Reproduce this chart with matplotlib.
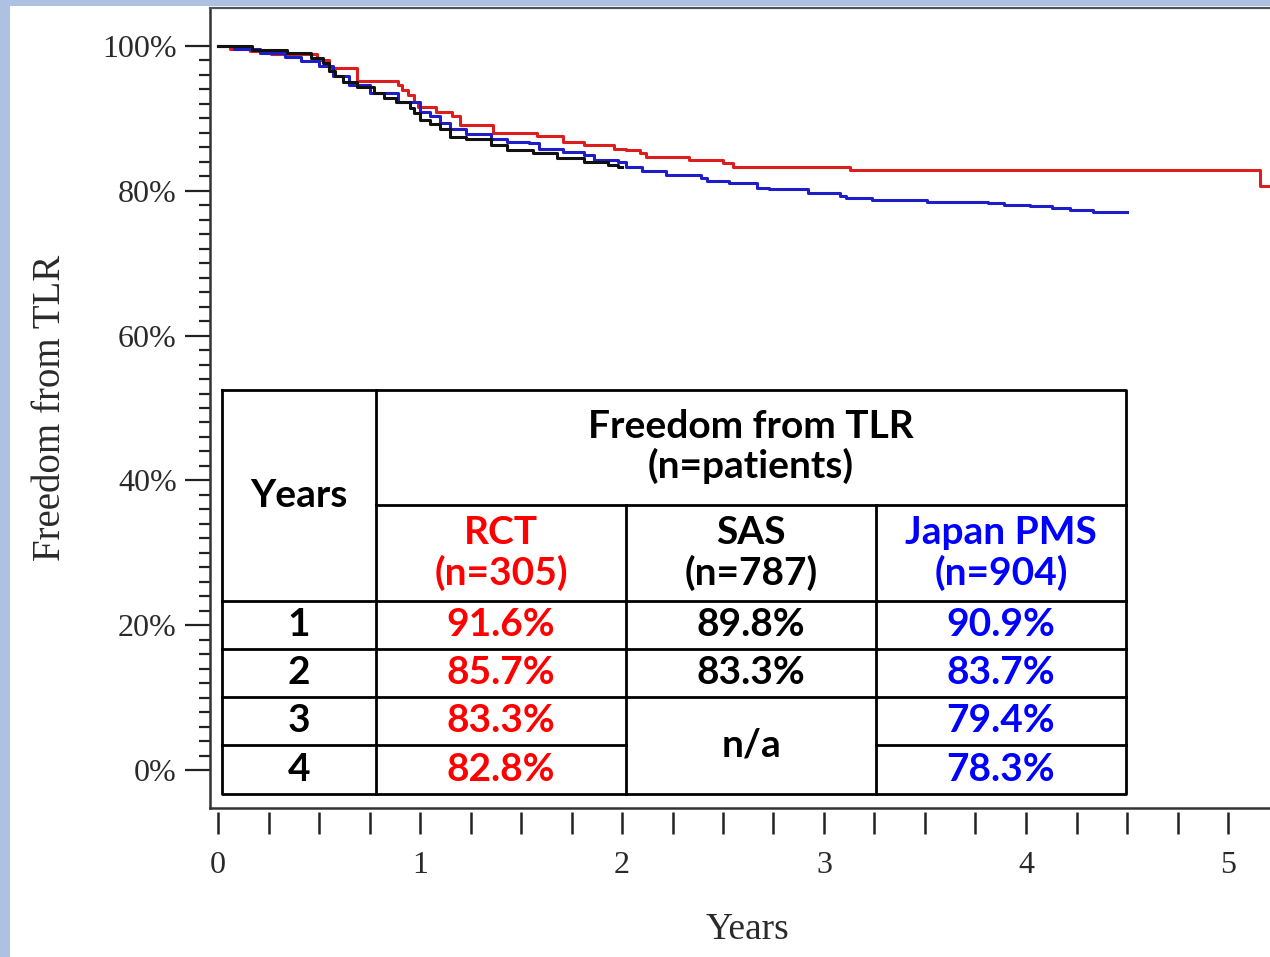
import matplotlib
matplotlib.use("Agg")
import matplotlib.pyplot as plt
from matplotlib.patches import Rectangle
from matplotlib.ticker import FixedLocator, NullFormatter

# ---------------- data ----------------
rct_t = [0.00, 0.06, 0.16, 0.26, 0.49, 0.55, 0.69, 0.89, 0.91, 0.94, 0.97, 0.99,
         1.08, 1.16, 1.20, 1.36, 1.58, 1.71, 1.81, 1.96, 2.02, 2.09, 2.12, 2.33,
         2.50, 2.55, 3.13, 5.16, 5.30]
rct_s = [100.0, 99.6, 99.3, 98.9, 98.1, 96.9, 95.2, 94.6, 93.9, 93.2, 92.3, 91.6,
         90.9, 90.3, 89.1, 88.0, 87.6, 86.8, 86.3, 85.8, 85.6, 85.2, 84.7, 84.2,
         83.8, 83.3, 82.9, 80.7, 80.7]

sas_t = [0.00, 0.17, 0.34, 0.46, 0.52, 0.55, 0.58, 0.62, 0.69, 0.77, 0.82, 0.88,
         0.95, 0.97, 1.00, 1.05, 1.10, 1.15, 1.23, 1.35, 1.43, 1.56, 1.68, 1.81,
         1.93, 1.98, 2.00]
sas_s = [100.0, 99.4, 99.0, 98.3, 97.6, 96.6, 95.8, 95.0, 94.4, 93.5, 92.8, 92.3,
         91.4, 90.8, 89.8, 89.2, 88.6, 87.5, 87.2, 86.3, 85.6, 85.2, 84.5, 84.0,
         83.6, 83.3, 83.3]

jpn_t = [0.00, 0.08, 0.21, 0.33, 0.41, 0.50, 0.57, 0.65, 0.75, 0.89, 1.00, 1.05,
         1.10, 1.15, 1.23, 1.35, 1.43, 1.54, 1.59, 1.71, 1.81, 1.86, 1.98, 2.02,
         2.10, 2.22, 2.39, 2.42, 2.53, 2.67, 2.73, 2.92, 3.08, 3.11, 3.24, 3.51,
         3.81, 3.89, 4.02, 4.13, 4.22, 4.33, 4.50]
jpn_s = [100.0, 99.6, 99.0, 98.5, 97.9, 97.2, 95.9, 94.6, 93.5, 92.3, 90.9, 90.3,
         89.4, 88.6, 87.9, 87.2, 86.8, 86.6, 85.8, 85.4, 84.9, 84.3, 84.0, 83.3,
         82.7, 82.2, 81.7, 81.3, 81.1, 80.4, 80.2, 79.7, 79.3, 79.0, 78.7, 78.5,
         78.3, 78.0, 77.9, 77.6, 77.3, 77.1, 77.1]

y_major = [0, 20, 40, 60, 80, 100]
y_labels = ['0%', '20%', '40%', '60%', '80%', '100%']
x_major = [0, 1, 2, 3, 4, 5]

table_years = ['1', '2', '3', '4']
rct_vals = ['91.6%', '85.7%', '83.3%', '82.8%']
sas_vals = ['89.8%', '83.3%']
sas_missing = 'n/a'
jpn_vals = ['90.9%', '83.7%', '79.4%', '78.3%']
group_names = ['RCT', 'SAS', 'Japan PMS']
group_n = [305, 787, 904]

# ---------------- styling ----------------
W, H = 1270, 957
BG_BLUE = '#adc2e2'
RED_LINE, BLUE_LINE, BLACK_LINE = '#dc1e1e', '#1e1ec8', '#111111'
RED_TXT, BLUE_TXT = '#ff0000', '#0000ff'
SERIF = 'Liberation Serif'
TFONT = 'Lato'
PX_PER_YEAR = 202.0

fig = plt.figure(figsize=(W / 100, H / 100), dpi=100, facecolor=BG_BLUE)
fig.patches.append(Rectangle((10 / W, 0), 1 - 10 / W, 1 - 6 / H,
                             transform=fig.transFigure, facecolor='white',
                             edgecolor='none', zorder=-10))

ax_w = 1 - 210 / W + 0.01
ax = fig.add_axes([210 / W, 1 - 808 / H, ax_w, 800 / H])
ax.set_facecolor('white')

ax.step(rct_t, rct_s, where='post', color=RED_LINE, lw=2.2, zorder=3)
ax.step(jpn_t, jpn_s, where='post', color=BLUE_LINE, lw=2.2, zorder=4)
ax.step(sas_t, sas_s, where='post', color=BLACK_LINE, lw=2.2, zorder=5)

ax.set_ylim(-5.25, 105.25)
x0 = (210 - 218) / PX_PER_YEAR
ax.set_xlim(x0, x0 + ax_w * W / PX_PER_YEAR)

# spines
ax.spines['right'].set_visible(False)
ax.spines['top'].set_color('#555555')
ax.spines['top'].set_linewidth(1.6)
ax.spines['left'].set_color('#333333')
ax.spines['left'].set_linewidth(1.8)
ax.spines['bottom'].set_position(('outward', 3))
ax.spines['bottom'].set_visible(False)
ax.axhline(-5.25, color='#333333', lw=1.8, clip_on=False, zorder=6)

# y ticks
ax.yaxis.set_major_locator(FixedLocator(y_major))
ax.set_yticklabels(y_labels)
ax.yaxis.set_minor_locator(FixedLocator([v for v in range(0, 101, 2) if v % 20]))
ax.tick_params(axis='y', which='major', direction='out', length=18, width=1.6,
               color='#222222', pad=6, labelsize=23, labelcolor='#2a2a2a')
ax.tick_params(axis='y', which='minor', direction='out', length=8, width=1.6,
               color='#222222')

# x ticks
ax.xaxis.set_major_locator(FixedLocator(x_major))
ax.xaxis.set_minor_locator(FixedLocator([q / 4 for q in range(0, 21) if q % 4]))
ax.xaxis.set_minor_formatter(NullFormatter())
ax.tick_params(axis='x', which='both', direction='out', length=16, width=1.8,
               color='#222222')
ax.tick_params(axis='x', which='major', pad=12, labelsize=23, labelcolor='#2a2a2a')
for lab in ax.get_xticklabels() + ax.get_yticklabels():
    lab.set_fontfamily(SERIF)

ax.set_ylabel('Freedom from TLR', fontfamily=SERIF, fontsize=28, color='#2a2a2a',
              va='center')
ax.yaxis.set_label_coords((50 - 210) / (ax_w * W), 0.5)
ax.set_xlabel('Years', fontfamily=SERIF, fontsize=27, color='#2a2a2a', va='center')
ax.xaxis.set_label_coords((748 - 210) / (ax_w * W), (808 - 930) / 800)

# ---------------- table ----------------
L, R, T, B = 222, 1126, 390, 794
cols = [222, 376, 626, 876, 1126]
rows = [390, 505, 601, 649, 697, 745, 794]
tax = fig.add_axes([L / W, 1 - B / H, (R - L) / W, (B - T) / H])
tax.set_xlim(L, R)
tax.set_ylim(B, T)
tax.axis('off')
tax.add_patch(Rectangle((L, T), R - L, B - T, facecolor='white', edgecolor='none'))
kw = dict(color='black', lw=2.0, solid_capstyle='projecting', clip_on=False)
tax.plot([L, R, R, L, L], [T, T, B, B, T], **kw)
tax.plot([cols[1], cols[1]], [T, B], **kw)
tax.plot([cols[2], cols[2]], [rows[1], B], **kw)
tax.plot([cols[3], cols[3]], [rows[1], B], **kw)
tax.plot([cols[1], R], [rows[1], rows[1]], **kw)
for r in rows[2:5]:
    tax.plot([L, R], [r, r], **kw)
tax.plot([L, cols[2]], [rows[5], rows[5]], **kw)
tax.plot([cols[3], R], [rows[5], rows[5]], **kw)

tk = dict(fontfamily=TFONT, fontweight='bold', fontsize=28, ha='center',
          va='center', linespacing=1.13)
tax.text((cols[0] + cols[1]) / 2, (rows[0] + rows[2]) / 2, 'Years', color='black', **tk)
tax.text((cols[1] + cols[4]) / 2, (rows[0] + rows[1]) / 2 - 1,
         'Freedom from TLR\n(n=patients)', color='black', **tk)
group_colors = [RED_TXT, 'black', BLUE_TXT]
for i, (g, n) in enumerate(zip(group_names, group_n)):
    tax.text((cols[i + 1] + cols[i + 2]) / 2, (rows[1] + rows[2]) / 2,
             f'{g}\n(n={n})', color=group_colors[i], **tk)
for j, y in enumerate(table_years):
    yc = (rows[j + 2] + rows[j + 3]) / 2
    tax.text((cols[0] + cols[1]) / 2, yc, y, color='black', **tk)
    tax.text((cols[1] + cols[2]) / 2, yc, rct_vals[j], color=RED_TXT, **tk)
    tax.text((cols[3] + cols[4]) / 2, yc, jpn_vals[j], color=BLUE_TXT, **tk)
    if j < len(sas_vals):
        tax.text((cols[2] + cols[3]) / 2, yc, sas_vals[j], color='black', **tk)
tax.text((cols[2] + cols[3]) / 2, (rows[4] + rows[6]) / 2, sas_missing,
         color='black', **tk)

fig.savefig('out.png', dpi=100, facecolor=fig.get_facecolor())
